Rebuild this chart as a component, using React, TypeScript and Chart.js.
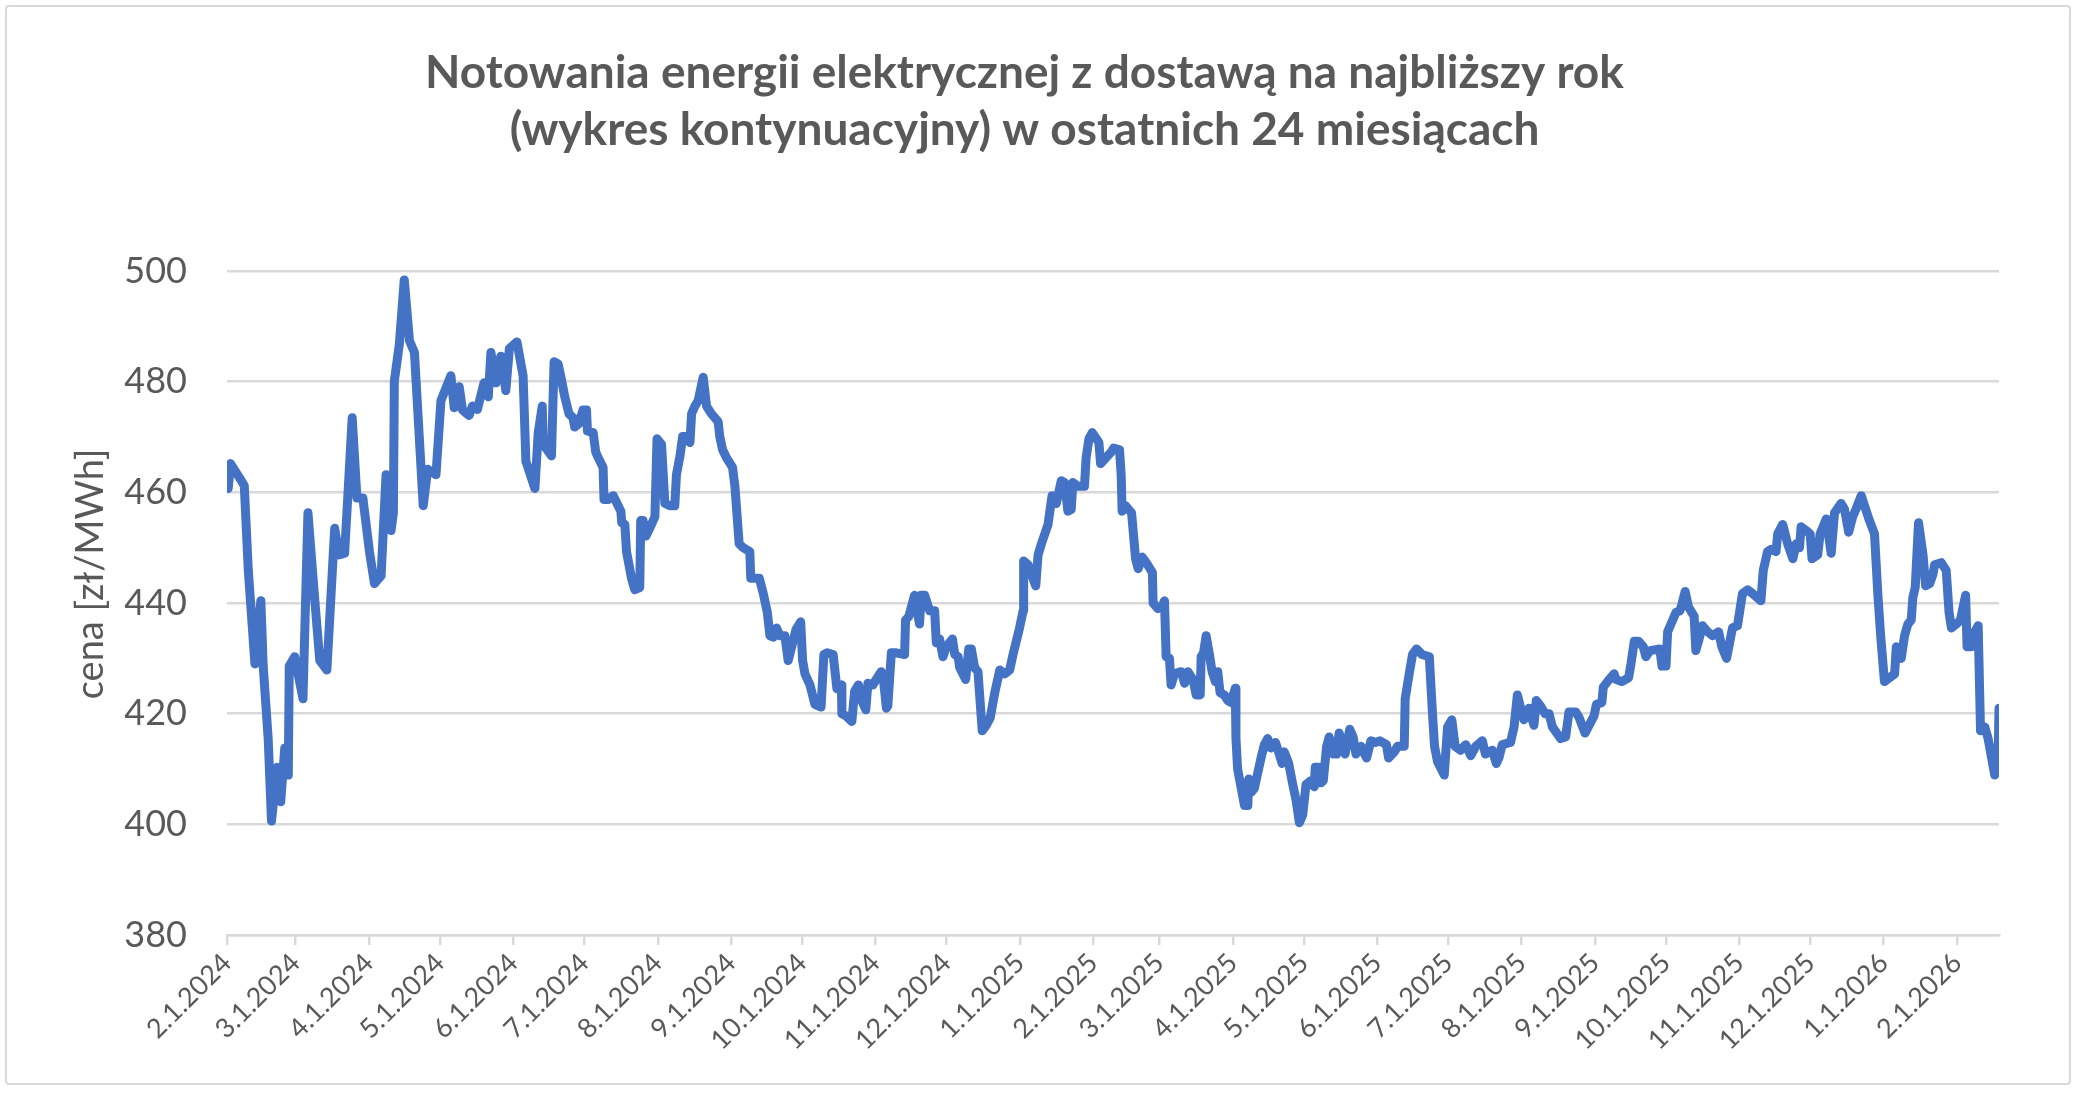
import React, { useEffect, useRef } from 'react';
import Chart from 'chart.js/auto';

// x = days since 1 Feb 2024, y = price in zł/MWh
const tradeDays = [
  0.5, 1.5, 5.5, 7.3, 9, 11.8, 14.3, 15.3, 17.4, 18.8, 21.2, 22.7, 24.4, 25.9, 26.3, 28.6, 32.1, 34.2, 37, 39.2,
  42.2, 45.5, 47.3, 49.7, 52.9, 54.9, 57.4, 60.2, 62.3, 65.1, 67.2, 69.3, 70.3, 70.7, 72.8, 74.9, 77.1, 79.2, 82.9, 84.8,
  88.3, 90.4, 94.6, 96, 98.1, 99.5, 102.3, 103.7, 105.8, 108.6, 110.4, 111.5, 113.6, 115.7, 117.8, 119.3, 122.5, 125.1, 126.3, 130.1,
  131.5, 133.2, 133.6, 137.1, 138.2, 139.9, 141.3, 142.7, 144.5, 146.2, 146.9, 148.8, 150.4, 151.9, 152.3, 154.7, 155.8, 156.8, 158.9, 159.3,
  161, 163.2, 164.8, 166.4, 166.8, 168.1, 168.8, 170.9, 172.3, 174.4, 174.8, 175.8, 177, 178.6, 180.8, 181.7, 183.6, 185, 187.1, 189.2,
  189.9, 191.4, 192.5, 194.2, 195.6, 196.3, 197.7, 199.1, 201.2, 202.6, 204.7, 207.5, 208.2, 209.4, 211, 213.6, 214.6, 216.4, 218.1, 220.9,
  221.3, 224.9, 226.6, 228.3, 229.4, 230.8, 232.2, 233.6, 235.7, 237.1, 238.6, 240.4, 242.4, 243.2, 244.2, 246.3, 248.4, 251, 252.2, 253.6,
  256.1, 257.7, 259.6, 259.8, 261.6, 264, 265.2, 266.8, 268.2, 269.9, 270.8, 272.9, 274.3, 276.4, 277.1, 278.6, 279.2, 280.7, 282.8, 286.3,
  286.7, 288.1, 290.5, 292.6, 293.3, 294.8, 296.9, 299, 299.7, 301.1, 302.5, 303.9, 306.5, 307.5, 308.9, 309.6, 312.1, 313.4, 314.5, 315.9,
  317.3, 319.1, 320.8, 322.5, 324.4, 326.5, 328.6, 330.7, 332.1, 334.7, 336.4, 336.6, 338.5, 341.7, 342.7, 344.1, 346.9, 348.6, 350.4, 352.5,
  353.9, 355.3, 356.7, 357.4, 359.5, 362.3, 363, 364.2, 365.6, 368.4, 369.1, 371.5, 373.6, 374.6, 377.1, 377.8, 378.2, 379.6, 382.2, 383.9,
  385, 386.7, 388.4, 391, 391.3, 393.3, 395.4, 396.1, 396.8, 398.2, 398.9, 400.3, 403.2, 404.6, 406, 408.1, 409.5, 411.2, 411.6, 412.6,
  413.7, 415.1, 416.2, 417.6, 418.6, 419.6, 421.4, 422.8, 424.2, 426, 426.3, 427, 429.9, 431.3, 431.7, 432.7, 434.1, 435.5, 436.9, 438.3,
  439.7, 441.1, 443, 444.6, 445.8, 446.7, 448.6, 450.3, 451.7, 453.1, 454.5, 455.9, 458, 459.4, 459.8, 461.2, 462.2, 463.2, 464.6, 465.7,
  467.4, 468.8, 469.9, 472.4, 474.4, 475.8, 477, 479.1, 481.5, 483.3, 485.4, 487.1, 489.9, 490.8, 493.2, 494.6, 497.4, 497.8, 499.5, 500.9,
  502.6, 504.9, 508, 509.4, 510.2, 511.5, 514.3, 515.7, 517.5, 518.9, 521.2, 523.4, 525.5, 527.6, 530.4, 531.7, 534.6, 536.3, 537.4, 538.8,
  542.3, 543.8, 545.2, 546.6, 548, 550.1, 552.2, 553.2, 555, 556.9, 558.6, 560, 563.5, 565.6, 567, 569.9, 571.3, 573.8, 575.5, 577.6,
  578.6, 580.9, 581.5, 584, 586.1, 586.8, 589.3, 592.2, 593.2, 594.6, 596.4, 598.4, 599.5, 601.2, 605.4, 606.3, 608, 608.7, 610.1, 612.2,
  613.9, 614.7, 616.1, 617.5, 619.9, 620.6, 622, 623.4, 625.6, 627.7, 630.2, 631.6, 633.6, 635, 636.1, 638.2, 640.3, 642.5, 644.6, 648.1,
  649.1, 650.9, 652.3, 654.5, 655.2, 657.3, 659.4, 661.6, 663, 664.4, 665.1, 667.2, 668.9, 669.7, 672.1, 673.1, 675.7, 677.8, 679.2, 682,
  683.4, 685.2, 686.9, 688.3, 690.5, 693.7, 696.1, 697.5, 698.7, 700.3, 702.5, 704.6, 705.3, 707.4, 708.8, 710.2, 711.6, 712.3, 713.3, 714.7,
  716.6, 717.7, 719.4, 720.8, 721.5, 724.3, 726.4, 727.6, 728.6, 730.7, 732.4, 734.6, 735.2, 737, 738, 739.9, 740.9, 742.7, 744.1, 746.9,
  748.3, 748.7,
];

const prices = [
  460.7, 465.2, 462.5, 461.2, 445.9, 429, 440.4, 428.6, 415.5, 400.6, 410.3, 404.1, 413.8, 408.9, 428.6, 430.3, 422.7, 456.3, 441, 429.6,
  427.9, 453.5, 448.7, 449, 473.5, 459, 459, 449.3, 443.5, 444.9, 463.2, 453.1, 456.3, 480.1, 486.7, 498.4, 487.4, 485.3, 457.6, 464.2,
  463.2, 476.6, 481.1, 475.3, 479.1, 474.9, 473.9, 475.6, 475, 479.8, 477.3, 485.3, 479.8, 484.6, 478.4, 486, 487.2, 481.1, 465.6, 460.7,
  470.8, 475.6, 468.7, 466.6, 483.6, 483.2, 480.4, 477.3, 474.2, 473.5, 471.8, 472.5, 474.9, 474.9, 471.1, 470.8, 467.3, 466.3, 464.5, 458.7,
  458.7, 459.4, 458, 456.6, 454.5, 454.2, 449.3, 444.5, 442.4, 442.8, 454.9, 454.9, 452.1, 453.5, 455.6, 469.7, 468.7, 458, 457.6, 457.6,
  463.2, 466.6, 470.1, 470.1, 469, 474.2, 475.6, 476.6, 480.8, 475.6, 474.2, 472.8, 470.1, 467.7, 466.3, 464.5, 461.1, 450.7, 450, 449.3,
  444.5, 444.5, 441.7, 438.3, 434.1, 433.8, 435.5, 434.1, 434.1, 429.6, 432.1, 435.2, 436.6, 429.6, 427.2, 425.2, 421.7, 421.2, 430.7, 431,
  430.7, 424.5, 425.2, 420, 419.6, 418.6, 424.1, 425.2, 422.4, 420.7, 425.5, 425.2, 426.2, 427.6, 427.2, 421, 421.4, 431, 431, 430.7,
  436.9, 437.6, 441.4, 436.2, 441.4, 441.4, 438.6, 438.6, 432.8, 433.5, 430.3, 432.1, 433.5, 430.7, 430.3, 428.3, 426.2, 431.7, 431.7, 428.3,
  427.6, 416.9, 417.9, 419.3, 423.8, 427.9, 427.2, 427.9, 430.7, 435.2, 438.6, 447.6, 446.9, 443.1, 448.7, 450.7, 454.2, 459.4, 458, 462.1,
  461.8, 456.6, 456.9, 461.8, 461.1, 461.1, 466.3, 469.7, 470.8, 469, 465.2, 466.3, 467.3, 468, 467.7, 463.2, 456.6, 457.6, 456.3, 448,
  446.2, 448.3, 447.3, 445.5, 440, 439, 439.7, 440.4, 430.3, 430, 425.2, 427.2, 427.6, 425.5, 427.6, 426.2, 423.4, 423.4, 430.3, 431,
  434.1, 430.7, 427.6, 425.8, 427.6, 423.8, 423.4, 422.4, 422, 424.6, 415.5, 410, 403.4, 403.4, 408.2, 405.8, 406.5, 409.3, 412, 414.4,
  415.5, 413.8, 414.8, 412.7, 411, 413.1, 411, 407.2, 404.4, 400.3, 401.7, 407.2, 407.9, 406.8, 410.3, 410.3, 407.5, 407.9, 414.1, 415.8,
  412.7, 412.7, 416.5, 412.7, 417.2, 415.8, 412.7, 414.1, 412, 415.1, 414.8, 415.1, 414.4, 412, 413.1, 414.1, 414.1, 422.7, 427.2, 430.7,
  431.7, 430.7, 430.3, 419.6, 414.1, 411.3, 408.9, 417.6, 418.9, 414.1, 413.4, 414.4, 412.4, 414.1, 415.1, 412.7, 413.4, 411, 412, 414.4,
  414.8, 417.6, 423.4, 421, 418.9, 421, 417.9, 422.4, 421.4, 420, 420, 417.6, 415.5, 415.8, 420.3, 420.3, 419.3, 416.5, 417.9, 419.6,
  421.7, 422, 424.8, 426.2, 427.2, 426.2, 425.8, 426.5, 429, 433.1, 433.1, 432.1, 430.3, 431.4, 431.7, 428.6, 428.6, 434.8, 436.2, 438.3,
  438.6, 439.7, 442.1, 439.3, 437.6, 431.4, 433.5, 435.9, 434.8, 434.1, 434.8, 432.1, 430, 433.1, 435.5, 435.9, 441.7, 442.4, 441.7, 440.4,
  445.9, 449.3, 449.7, 449.3, 452.5, 454.2, 450.7, 448, 450.7, 450, 453.8, 453.1, 452.5, 448, 448.7, 452.5, 455.2, 449, 456.3, 458,
  457, 452.8, 455.6, 457, 459.4, 455.2, 452.5, 441.7, 434.1, 425.8, 426.5, 427.2, 432.1, 430, 434.1, 436.2, 436.9, 441, 442.8, 454.5,
  448.7, 443.1, 443.5, 445.2, 446.9, 447.3, 445.9, 438.3, 435.5, 436.2, 436.9, 441.4, 432.1, 432.1, 434.5, 435.9, 416.9, 417.6, 415.5, 408.9,
  411.3, 421,
];

// first day of each month, as days since 1 Feb 2024
const monthTickDays = [0, 29, 60, 90, 121, 151, 182, 213, 243, 274, 304, 335, 366, 394, 425, 455, 486, 516, 547, 578, 608, 639, 669, 700, 731];
const monthLabels = [
  '2.1.2024', '3.1.2024', '4.1.2024', '5.1.2024', '6.1.2024', '7.1.2024', '8.1.2024', '9.1.2024', '10.1.2024',
  '11.1.2024', '12.1.2024', '1.1.2025', '2.1.2025', '3.1.2025', '4.1.2025', '5.1.2025', '6.1.2025', '7.1.2025',
  '8.1.2025', '9.1.2025', '10.1.2025', '11.1.2025', '12.1.2025', '1.1.2026', '2.1.2026',
];

const titleLines = [
  'Notowania energii elektrycznej z dostawą na najbliższy rok',
  '(wykres kontynuacyjny) w ostatnich 24 miesiącach',
];

const GREY_TEXT = '#595959';
const GRID = '#d9d9d9';
const FONT = 'Lato, "Open Sans", sans-serif';

const App: React.FC = () => {
  const canvasRef = useRef<HTMLCanvasElement>(null);

  useEffect(() => {
    document.body.style.margin = '0';
    if (!canvasRef.current) return;
    const ctx = canvasRef.current.getContext('2d');
    if (!ctx) return;

    const chart = new Chart(ctx, {
      type: 'line',
      data: {
        datasets: [{
          data: tradeDays.map((d, i) => ({ x: d, y: prices[i] })),
          borderColor: '#4472C4',
          borderWidth: 9,
          pointRadius: 0,
          tension: 0,
          borderJoinStyle: 'round',
          borderCapStyle: 'round',
        }],
      },
      options: {
        animation: false,
        responsive: false,
        devicePixelRatio: 1,
        layout: { padding: { left: 50, right: 81, top: 0, bottom: 0 } },
        plugins: {
          legend: { display: false },
          tooltip: { enabled: false },
          title: {
            display: true,
            text: titleLines,
            color: GREY_TEXT,
            font: { family: FONT, size: 46, weight: 'bold', lineHeight: 1.24 },
            padding: { top: 45, bottom: 112 },
          },
        },
        scales: {
          x: {
            type: 'linear',
            min: 0,
            max: tradeDays[tradeDays.length - 1],
            afterBuildTicks: (scale: any) => {
              scale.ticks = monthTickDays.map((v) => ({ value: v }));
            },
            afterFit: (scale: any) => {
              scale.height = 160;
            },
            ticks: {
              autoSkip: false,
              minRotation: 45,
              maxRotation: 45,
              padding: 2,
              color: GREY_TEXT,
              font: { family: FONT, size: 27 },
              callback: (_v: any, i: number) => monthLabels[i],
            },
            grid: { drawOnChartArea: false, drawTicks: true, tickLength: 10, color: GRID, lineWidth: 2.5 },
            border: { display: true, color: GRID, width: 2.5 },
          },
          y: {
            min: 380,
            max: 500,
            afterFit: (scale: any) => {
              scale.width = 227 - 50;
            },
            ticks: {
              stepSize: 20,
              padding: 40,
              color: GREY_TEXT,
              font: { family: FONT, size: 36 },
            },
            grid: { color: GRID, lineWidth: 2.5, drawTicks: false },
            border: { display: false },
            title: {
              display: true,
              // leading spaces nudge the rotated title slightly upwards, as in the original
              text: '\u00a0\u00a0\u00a0\u00a0\u00a0\u00a0cena [zł/MWh]',
              color: GREY_TEXT,
              font: { family: FONT, size: 38 },
              padding: { top: 18, bottom: 0 },
            },
          },
        },
      },
    } as any);

    return () => {
      chart.destroy();
    };
  }, []);

  return (
    <div style={{ position: 'relative', width: 2080, height: 1095, background: '#fff' }}>
      <div
        style={{
          position: 'absolute', left: 5, top: 5, width: 2066, height: 1080,
          border: '2px solid #d9d9d9', borderRadius: 4, boxSizing: 'border-box',
        }}
      />
      <canvas ref={canvasRef} width={2080} height={1095} style={{ position: 'absolute', left: 0, top: 0 }} />
    </div>
  );
};

export default App;
